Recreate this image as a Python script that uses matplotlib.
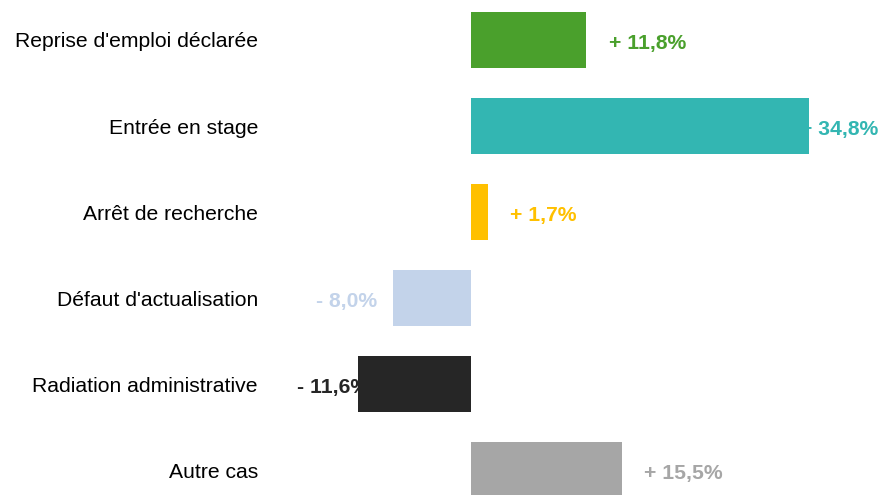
import matplotlib.pyplot as plt

categories = ["Reprise d'emploi déclarée", "Entrée en stage", "Arrêt de recherche",
              "Défaut d'actualisation", "Radiation administrative", "Autre cas"]
values = [11.8, 34.8, 1.7, -8.0, -11.6, 15.5]
labels = ["+ 11,8%", "+ 34,8%", "+ 1,7%", "- 8,0%", "- 11,6%", "+ 15,5%"]
colors = ["#4aa02c", "#33b6b2", "#ffc000", "#c3d3ea", "#262626", "#a6a6a6"]

# label offsets from bar end, in data units (negative -> right-aligned text)
label_offsets = [2.35, -0.95, 2.35, -1.65, 1.15, 2.35]

plt.rcParams['font.family'] = ['Liberation Sans', 'DejaVu Sans']

fig = plt.figure(figsize=(8.81, 4.95), dpi=100)
ax = fig.add_axes([0, 0, 1, 1])

ypos = list(range(len(categories)))
ax.barh(ypos, values, height=0.65, color=colors, zorder=3)

for y, cat in zip(ypos, categories):
    ax.text(-21.95, y, cat, ha='right', va='center_baseline', fontsize=15.2, color='black')

for y, v, lab, c, off in zip(ypos, values, labels, colors, label_offsets):
    ha = 'left' if v >= 0 else 'right'
    ax.text(v + off, y + 0.02, lab, ha=ha, va='center_baseline', fontsize=15.2,
            fontweight='bold', color=c, zorder=2)

ax.set_xlim(-48.5, 42.2)
ax.set_ylim(5.29, -0.465)
ax.axis('off')

fig.savefig('out.png', dpi=100)
